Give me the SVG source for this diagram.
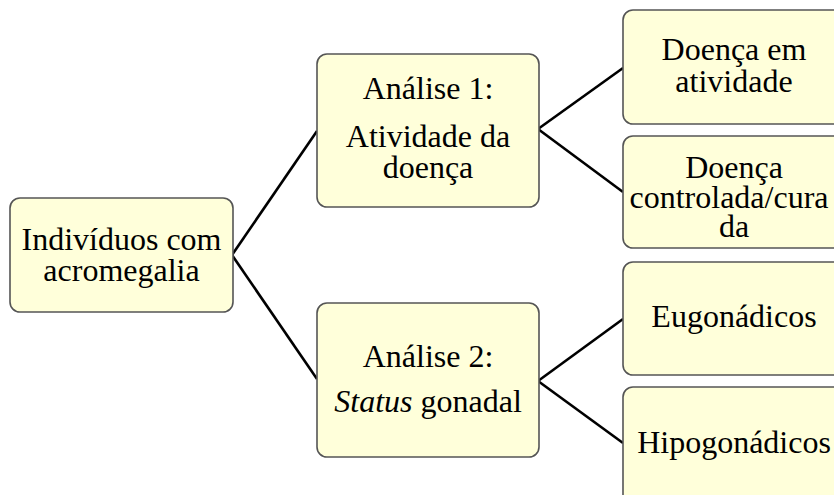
<svg xmlns="http://www.w3.org/2000/svg" width="834" height="495" viewBox="0 0 834 495">
  <style>
    .box { fill: #FFFFDA; stroke: #555555; stroke-width: 1.6; }
    .lbl { font-family: "Liberation Serif", "Times New Roman", serif; font-size: 32px; fill: #000000; text-anchor: middle; }
    .link { stroke: #000000; stroke-width: 2.6; fill: none; }
  </style>
  <rect width="834" height="495" fill="#FFFFFF"/>

  <g id="connectors">
    <line class="link" x1="232" y1="255" x2="317" y2="131"/>
    <line class="link" x1="232" y1="255" x2="317" y2="379"/>
    <line class="link" x1="538" y1="129" x2="623" y2="68"/>
    <line class="link" x1="538" y1="129" x2="623" y2="192"/>
    <line class="link" x1="538" y1="381" x2="623" y2="319"/>
    <line class="link" x1="538" y1="381" x2="623" y2="443"/>
  </g>

  <g id="root">
    <rect class="box" x="10" y="198" width="223" height="114" rx="10"/>
    <text class="lbl" x="121.5" y="250">Indivíduos com</text>
    <text class="lbl" x="121.5" y="281">acromegalia</text>
  </g>

  <g id="analise1">
    <rect class="box" x="317" y="54" width="222" height="153" rx="10"/>
    <text class="lbl" x="428" y="99">Análise 1:</text>
    <text class="lbl" x="428" y="147">Atividade da</text>
    <text class="lbl" x="428" y="178">doença</text>
  </g>

  <g id="analise2">
    <rect class="box" x="317" y="303" width="222" height="154" rx="10"/>
    <text class="lbl" x="428" y="367">Análise 2:</text>
    <text class="lbl" x="428" y="412"><tspan font-style="italic">Status</tspan> gonadal</text>
  </g>

  <g id="doenca-atividade">
    <rect class="box" x="623" y="10" width="222" height="114" rx="10"/>
    <text class="lbl" x="734" y="60">Doença em</text>
    <text class="lbl" x="734" y="92">atividade</text>
  </g>

  <g id="doenca-controlada">
    <rect class="box" x="623" y="136" width="222" height="112" rx="10"/>
    <text class="lbl" x="734" y="178">Doença</text>
    <text class="lbl" x="729" y="208">controlada/cura</text>
    <text class="lbl" x="734" y="237">da</text>
  </g>

  <g id="eugonadicos">
    <rect class="box" x="623" y="262" width="222" height="113" rx="10"/>
    <text class="lbl" x="734" y="327">Eugonádicos</text>
  </g>

  <g id="hipogonadicos">
    <rect class="box" x="623" y="387" width="222" height="120" rx="10"/>
    <text class="lbl" x="734" y="453">Hipogonádicos</text>
  </g>
</svg>
